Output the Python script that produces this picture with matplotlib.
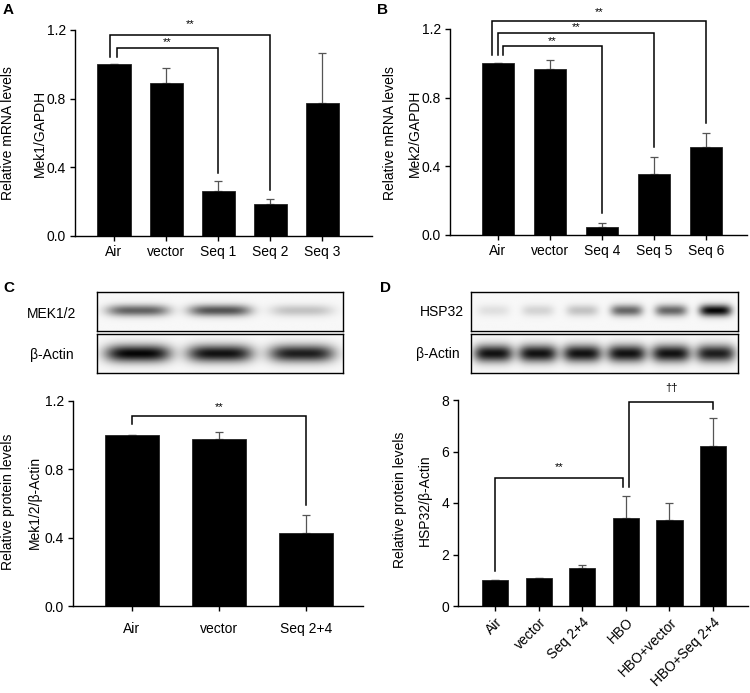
import numpy as np
import matplotlib
matplotlib.use("Agg")
import matplotlib.pyplot as plt

plt.rcParams["font.family"] = ["Liberation Sans", "DejaVu Sans"]
plt.rcParams["font.size"] = 10

W, H = 750, 693

# panel A - Mek1 mRNA
a_labels = ["Air", "vector", "Seq 1", "Seq 2", "Seq 3"]
a_values = [1.0, 0.89, 0.265, 0.185, 0.775]
a_errors = [0.0, 0.09, 0.053, 0.033, 0.29]

# panel B - Mek2 mRNA
b_labels = ["Air", "vector", "Seq 4", "Seq 5", "Seq 6"]
b_values = [1.0, 0.965, 0.047, 0.353, 0.51]
b_errors = [0.0, 0.055, 0.025, 0.103, 0.086]

# panel C - MEK1/2 protein
c_labels = ["Air", "vector", "Seq 2+4"]
c_values = [1.0, 0.98, 0.425]
c_errors = [0.0, 0.04, 0.105]
c_mek_bands = [0.62, 0.68, 0.22]
c_actin_bands = [1.0, 0.95, 0.9]

# panel D - HSP32 protein
d_labels = ["Air", "vector", "Seq 2+4", "HBO", "HBO+vector", "HBO+Seq 2+4"]
d_values = [1.0, 1.07, 1.48, 3.41, 3.34, 6.2]
d_errors = [0.0, 0.03, 0.12, 0.85, 0.66, 1.09]
d_hsp_bands = [0.1, 0.15, 0.22, 0.6, 0.6, 1.0]
d_actin_bands = [0.95, 0.95, 0.95, 0.95, 0.95, 0.9]


def px_axes(fig, left, top, right, bottom):
    return fig.add_axes([left / W, 1 - bottom / H, (right - left) / W, (bottom - top) / H])


def px_text(fig, x, y, s, **kw):
    fig.text(x / W, 1 - y / H, s, **kw)


def bar_panel(ax, labels, values, errors, width, xlim, ylim, yticks, ytick_fmt):
    x = np.arange(len(values))
    ax.bar(x, values, width=width, color="black", edgecolor="#222222", linewidth=0.6, zorder=2)
    ax.errorbar(x, values, yerr=[np.zeros(len(errors)), errors], fmt="none",
                ecolor="#555555", elinewidth=0.9, capsize=3, capthick=0.9, zorder=1)
    ax.set_xlim(*xlim)
    ax.set_ylim(*ylim)
    ax.set_yticks(yticks)
    ax.set_yticklabels([ytick_fmt.format(t) for t in yticks])
    ax.set_xticks(x)
    ax.set_xticklabels(labels)
    for s in ["top", "right"]:
        ax.spines[s].set_visible(False)
    for s in ["left", "bottom"]:
        ax.spines[s].set_linewidth(1.0)
    ax.tick_params(axis="both", direction="out", length=3.5, width=1.0, labelsize=10, pad=3)
    ax.patch.set_alpha(0)


def bracket(ax, x1, x2, top, y1, y2, text, ty, size=8):
    ax.plot([x1, x1, x2, x2], [y1, top, top, y2], color="black", lw=1.1,
            clip_on=False, solid_joinstyle="miter")
    ax.text((x1 + x2) / 2, ty, text, ha="center", va="center", fontsize=size, clip_on=False)


def blot(ax, bands, half_width, thickness):
    n = len(bands)
    xs = np.linspace(0, n, 400)
    ys = np.linspace(-1, 1, 60)
    img = np.full((len(ys), len(xs)), 0.03)
    for i, a in enumerate(bands):
        hx = np.exp(-((xs - (i + 0.5)) / half_width) ** 4)
        vy = np.exp(-(ys / thickness) ** 2)
        img += a * vy[:, None] * hx[None, :]
    ax.imshow(img, cmap="gray_r", vmin=0, vmax=1.05, aspect="auto",
              extent=[0, n, -1, 1], interpolation="bilinear")
    ax.set_xticks([])
    ax.set_yticks([])
    for s in ax.spines.values():
        s.set_linewidth(1.0)


fig = plt.figure(figsize=(W / 100, H / 100), dpi=100)

# ---- A ----
ax = px_axes(fig, 75, 30, 372, 236)
bar_panel(ax, a_labels, a_values, a_errors, 0.635, (-0.75, 4.96), (0, 1.2),
          [0, 0.4, 0.8, 1.2], "{:.1f}")
bracket(ax, 0.06, 2, 1.093, 1.04, 0.369, "**", 1.132)
bracket(ax, -0.08, 3, 1.169, 1.04, 0.268, "**", 1.235)
px_text(fig, 8, 133, "Relative mRNA levels", rotation=90, ha="center", va="center", fontsize=10)
px_text(fig, 40, 133, "Mek1/GAPDH", rotation=90, ha="center", va="center", fontsize=10)
px_text(fig, 3, 10, "A", fontweight="bold", fontsize=11, va="center")

# ---- B ----
ax = px_axes(fig, 450, 29, 747, 235)
bar_panel(ax, b_labels, b_values, b_errors, 0.62, (-0.92, 4.79), (0, 1.2),
          [0, 0.4, 0.8, 1.2], "{:.1f}")
bracket(ax, 0.1, 2, 1.10, 1.048, 0.126, "**", 1.13)
bracket(ax, 0.0, 3, 1.175, 1.048, 0.51, "**", 1.21)
bracket(ax, -0.11, 4, 1.248, 1.048, 0.65, "**", 1.30)
px_text(fig, 390, 133, "Relative mRNA levels", rotation=90, ha="center", va="center", fontsize=10)
px_text(fig, 415, 133, "Mek2/GAPDH", rotation=90, ha="center", va="center", fontsize=10)
px_text(fig, 377, 10, "B", fontweight="bold", fontsize=11, va="center")

# ---- C ----
blot(px_axes(fig, 97, 292, 343, 330.5), c_mek_bands, 0.38, 0.3)
blot(px_axes(fig, 97, 334, 343, 373), c_actin_bands, 0.4, 0.45)
px_text(fig, 52, 314, "MEK1/2", ha="center", va="center", fontsize=10)
px_text(fig, 52, 355, "β-Actin", ha="center", va="center", fontsize=10)

ax = px_axes(fig, 73, 401, 363, 606)
bar_panel(ax, c_labels, c_values, c_errors, 0.61, (-0.678, 2.655), (0, 1.2),
          [0, 0.4, 0.8, 1.2], "{:.1f}")
ax.tick_params(axis="x", pad=8)
bracket(ax, 0, 2, 1.112, 1.063, 0.59, "**", 1.162)
px_text(fig, 8, 502, "Relative protein levels", rotation=90, ha="center", va="center", fontsize=10)
px_text(fig, 35, 502, "Mek1/2/β-Actin", rotation=90, ha="center", va="center", fontsize=10)
px_text(fig, 3, 288, "C", fontweight="bold", fontsize=11, va="center")

# ---- D ----
blot(px_axes(fig, 471, 292, 738, 330.5), d_hsp_bands, 0.36, 0.3)
blot(px_axes(fig, 471, 334, 738, 373), d_actin_bands, 0.44, 0.45)
px_text(fig, 442, 312, "HSP32", ha="center", va="center", fontsize=10)
px_text(fig, 438, 354, "β-Actin", ha="center", va="center", fontsize=10)

ax = px_axes(fig, 458, 400, 748, 606)
bar_panel(ax, d_labels, d_values, d_errors, 0.6, (-0.849, 5.80), (0, 8),
          [0, 2, 4, 6, 8], "{:.0f}")
for t in ax.get_xticklabels():
    t.set_rotation(45)
    t.set_ha("right")
    t.set_va("top")
    t.set_rotation_mode("anchor")
bracket(ax, 0, 2.93, 4.96, 1.35, 4.63, "**", 5.40)
bracket(ax, 3.07, 5, 7.93, 4.63, 7.64, "††", 8.47)
px_text(fig, 400, 500, "Relative protein levels", rotation=90, ha="center", va="center", fontsize=10)
px_text(fig, 425, 500, "HSP32/β-Actin", rotation=90, ha="center", va="center", fontsize=10)
px_text(fig, 380, 288, "D", fontweight="bold", fontsize=11, va="center")

fig.savefig("out.png", dpi=100)
